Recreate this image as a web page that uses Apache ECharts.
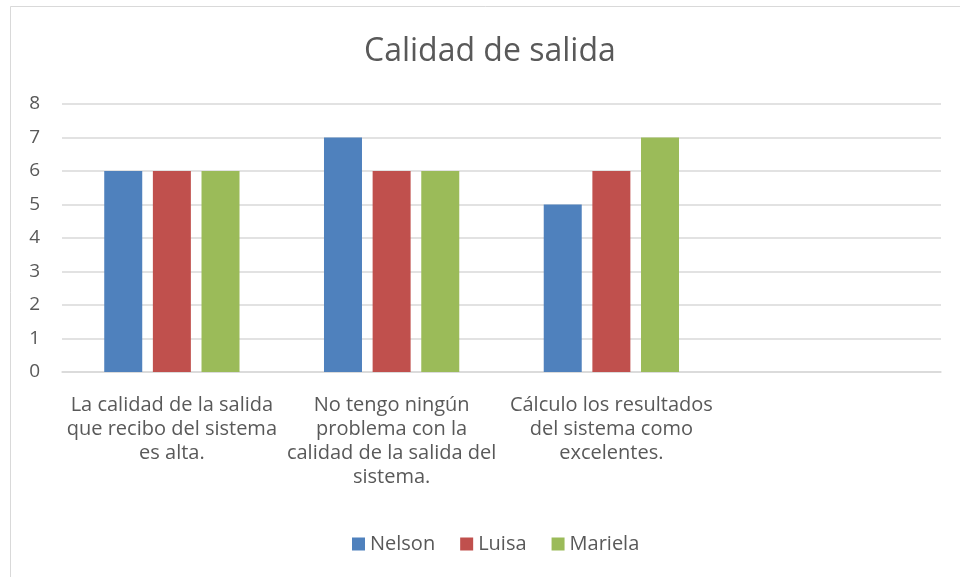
<!DOCTYPE html>
<html><head><meta charset="utf-8">
<script src="https://cdn.jsdelivr.net/npm/echarts@6/dist/echarts.min.js"></script>
<style>html,body{margin:0;padding:0;background:#fff}#c{width:960px;height:577px}</style>
</head><body><div id="c"></div>
<script>
const categories = [
  "La calidad de la salida\nque recibo del sistema\nes alta.",
  "No tengo ningún\nproblema con la\ncalidad de la salida del\nsistema.",
  "Cálculo los resultados\ndel sistema como\nexcelentes.",
  ""
];
const nelson = [6, 7, 5, null];
const luisa = [6, 6, 6, null];
const mariela = [6, 6, 7, null];
const yTicks = [0, 1, 2, 3, 4, 5, 6, 7, 8];

const font = "'Open Sans', 'Noto Sans', sans-serif";
const txt = '#595959';
const chart = echarts.init(document.getElementById('c'));
chart.setOption({
  animation: false,
  backgroundColor: '#fff',
  graphic: [{type:'rect', shape:{x:10.5,y:6.5,width:960,height:600}, style:{fill:'none', stroke:'#d9d9d9', lineWidth:1}}],
  title: {text: 'Calidad de salida', left: 359, top: 31,
    textStyle: {fontFamily: font, fontSize: 32, fontWeight: 'normal', color: txt}},
  legend: {bottom: 18, left: 347, itemWidth: 13, itemHeight: 13, itemGap: 25,
    icon: 'rect', textStyle: {fontFamily: font, fontSize: 20, color: txt}},
  grid: {left: 62, right: 19, top: 104, bottom: 205},
  xAxis: {type: 'category', data: categories,
    axisLine: {lineStyle: {color: '#d9d9d9', width: 1.5}}, axisTick: {show: false},
    axisLabel: {fontFamily: font, fontSize: 20, color: txt, lineHeight: 24, margin: 21, interval: 0}},
  yAxis: {type: 'value', min: 0, max: 8, interval: 1,
    axisLine: {show: false}, axisTick: {show: false},
    splitLine: {lineStyle: {color: '#d9d9d9', width: 1.5}},
    axisLabel: {fontFamily: font, fontSize: 19, color: txt, margin: 22,
      formatter: v => String(yTicks[v] ?? v)}},
  series: [
    {name: 'Nelson', type: 'bar', data: nelson, barWidth: 38, barGap: '28%', itemStyle: {color: '#4f81bd'}},
    {name: 'Luisa', type: 'bar', data: luisa, barWidth: 38, barGap: '28%', itemStyle: {color: '#c0504d'}},
    {name: 'Mariela', type: 'bar', data: mariela, barWidth: 38, barGap: '28%', itemStyle: {color: '#9bbb59'}}
  ]
});
</script></body></html>
